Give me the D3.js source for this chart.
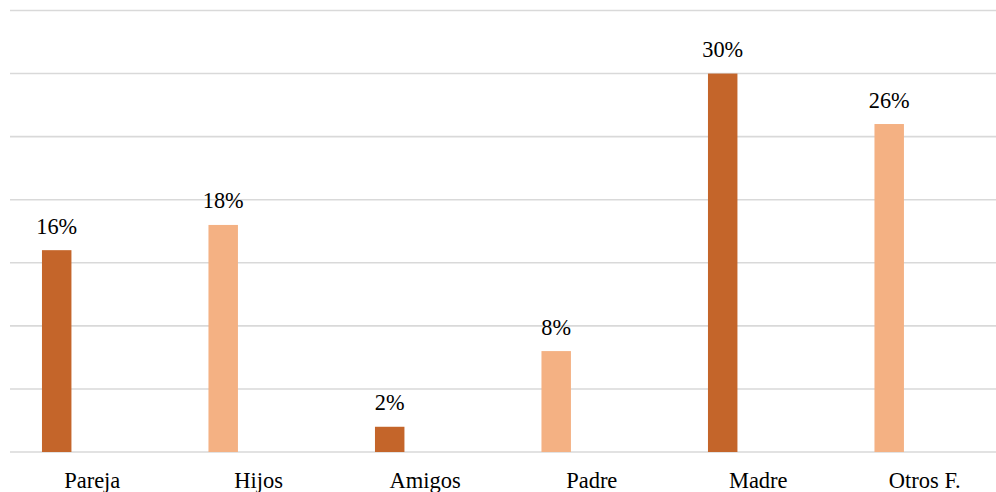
<!DOCTYPE html>
<html><head><meta charset="utf-8">
<script src="https://cdn.jsdelivr.net/npm/d3@7"></script>
<style>body{margin:0;background:#fff}svg{display:block}</style>
</head><body><svg id="c" width="996" height="492" font-family="Liberation Serif"></svg>
<script>
const categories = ["Pareja","Hijos","Amigos","Padre","Madre","Otros F."];
const values = [16,18,2,8,30,26];
const yTicks = [0,5,10,15,20,25,30,35];
const colors = ["#C4652A","#F4B183"];

const svg = d3.select("#c");
const x = d3.scaleBand().domain(categories).range([9,1008]).paddingInner(0).paddingOuter(0);
const y = d3.scaleLinear().domain([0,35]).range([452,10.5]);

svg.append("g").selectAll("line").data(yTicks).join("line")
  .attr("x1",10).attr("x2",996)
  .attr("y1",d=>y(d)).attr("y2",d=>y(d))
  .attr("stroke","#d9d9d9").attr("stroke-width",1.6);

const barW = x.bandwidth()*0.177;
const barOff = x.bandwidth()*0.198;
svg.append("g").selectAll("rect").data(categories).join("rect")
  .attr("x",(d)=>x(d)+barOff)
  .attr("width",barW)
  .attr("y",(d,i)=>y(values[i]))
  .attr("height",(d,i)=>y(0)-y(values[i]))
  .attr("fill",(d,i)=>colors[i%2]);

svg.append("g").selectAll("text").data(categories).join("text")
  .attr("x",d=>x(d)+barOff+barW/2)
  .attr("y",(d,i)=>y(values[i])-16.5)
  .attr("text-anchor","middle")
  .attr("font-family","Liberation Serif")
  .attr("font-size","22.3px").attr("fill","#000")
  .text((d,i)=>values[i]+"%");

svg.append("g").selectAll("text").data(categories).join("text")
  .attr("x",d=>x(d)+x.bandwidth()/2)
  .attr("y",488)
  .attr("text-anchor","middle")
  .attr("font-family","Liberation Serif")
  .attr("font-size","22.5px").attr("fill","#000")
  .text(d=>d);
</script></body></html>
